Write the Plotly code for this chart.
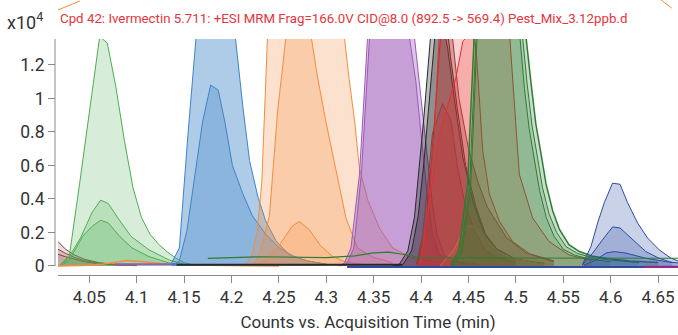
import plotly.graph_objects as go

# ---------------- data (values in x10^4 counts, time in min) ----------------
T_BROWN_TAIL = [4.010, 4.017, 4.025, 4.034, 4.045, 4.060, 4.080, 4.100]
V_BROWN_TAIL_1 = [0.160, 0.145, 0.100, 0.066, 0.040, 0.020, 0.008, 0.003]
V_BROWN_TAIL_2 = [0.110, 0.100, 0.075, 0.052, 0.032, 0.016, 0.006, 0.002]
V_BROWN_TAIL_3 = [0.075, 0.070, 0.055, 0.040, 0.025, 0.012, 0.004, 0.002]

T_GREEN_A = [4.018, 4.029, 4.040, 4.052, 4.061, 4.069, 4.078, 4.087, 4.096, 4.105, 4.114, 4.123, 4.132, 4.141, 4.150, 4.160]
V_GREEN_A = [0.0, 0.06, 0.50, 1.01, 1.37, 1.33, 1.07, 0.75, 0.47, 0.29, 0.19, 0.13, 0.085, 0.048, 0.02, 0.005]
T_GREEN_B = [4.020, 4.029, 4.041, 4.053, 4.062, 4.070, 4.081, 4.094, 4.113, 4.134, 4.150]
V_GREEN_B = [0.0, 0.056, 0.17, 0.32, 0.393, 0.373, 0.28, 0.177, 0.096, 0.036, 0.01]
T_GREEN_C = [4.020, 4.029, 4.043, 4.053, 4.062, 4.070, 4.082, 4.095, 4.113, 4.134, 4.150]
V_GREEN_C = [0.0, 0.036, 0.177, 0.237, 0.273, 0.257, 0.177, 0.108, 0.056, 0.018, 0.005]

T_ORANGE_BUMP = [4.017, 4.050, 4.065, 4.078, 4.090, 4.105, 4.125, 4.150, 4.200, 4.250]
V_ORANGE_BUMP = [0.0, 0.004, 0.012, 0.024, 0.033, 0.027, 0.015, 0.006, 0.002, 0.0]

T_BLUE_A = [4.136, 4.145, 4.154, 4.162, 4.172, 4.182, 4.193, 4.204, 4.212, 4.219, 4.228, 4.236, 4.247, 4.261, 4.280, 4.300]
V_BLUE_A = [0.01, 0.107, 0.78, 1.40, 2.0, 2.2, 1.95, 1.37, 0.95, 0.63, 0.41, 0.27, 0.15, 0.066, 0.03, 0.01]
T_BLUE_B = [4.138, 4.145, 4.153, 4.161, 4.1695, 4.178, 4.186, 4.193, 4.201, 4.212, 4.222, 4.236, 4.250, 4.265, 4.280, 4.300]
V_BLUE_B = [0.0, 0.03, 0.21, 0.53, 0.86, 1.08, 1.05, 0.86, 0.60, 0.43, 0.30, 0.19, 0.11, 0.06, 0.03, 0.01]

T_ORANGE_A = [4.210, 4.216, 4.221, 4.227, 4.232, 4.238, 4.250, 4.265, 4.280, 4.295, 4.310, 4.319, 4.324, 4.330, 4.335, 4.344, 4.356, 4.370, 4.390, 4.420]
V_ORANGE_A = [0.0, 0.02, 0.056, 0.20, 0.50, 1.37, 2.2, 2.8, 3.0, 2.7, 1.95, 1.37, 1.12, 0.86, 0.58, 0.39, 0.227, 0.107, 0.05, 0.02]
T_ORANGE_B = [4.222, 4.229, 4.240, 4.2486, 4.2575, 4.270, 4.284, 4.291, 4.300, 4.311, 4.321, 4.333, 4.350, 4.370]
V_ORANGE_B = [0.0, 0.056, 0.30, 0.92, 1.37, 2.0, 1.37, 1.12, 0.85, 0.56, 0.28, 0.107, 0.05, 0.02]
T_ORANGE_C = [4.225, 4.236, 4.250, 4.264, 4.2715, 4.282, 4.294, 4.307, 4.320, 4.340]
V_ORANGE_C = [0.0, 0.036, 0.12, 0.237, 0.265, 0.217, 0.12, 0.056, 0.025, 0.008]

T_PURPLE_A = [4.312, 4.319, 4.326, 4.335, 4.3436, 4.355, 4.366, 4.378, 4.3876, 4.3945, 4.400, 4.4034, 4.407, 4.412, 4.419, 4.430, 4.450]
V_PURPLE_A = [0.0, 0.016, 0.107, 0.548, 1.37, 2.2, 2.5, 2.2, 1.37, 1.10, 0.80, 0.59, 0.39, 0.19, 0.07, 0.03, 0.01]
T_PURPLE_B = [4.315, 4.322, 4.329, 4.337, 4.3457, 4.357, 4.368, 4.381, 4.3929, 4.399, 4.404, 4.408, 4.412, 4.417, 4.425, 4.440, 4.460]
V_PURPLE_B = [0.0, 0.016, 0.107, 0.55, 1.37, 2.1, 2.4, 2.1, 1.37, 1.05, 0.78, 0.57, 0.37, 0.18, 0.06, 0.025, 0.01]

T_BLACK_A = [4.370, 4.377, 4.386, 4.393, 4.398, 4.403, 4.410, 4.417, 4.424, 4.431, 4.438, 4.447, 4.458, 4.468, 4.480, 4.500, 4.530]
V_BLACK_A = [0.0, 0.01, 0.09, 0.29, 0.59, 0.89, 1.37, 1.75, 1.60, 1.25, 0.95, 0.60, 0.35, 0.19, 0.10, 0.04, 0.015]
T_BLACK_B = [4.373, 4.381, 4.390, 4.397, 4.403, 4.409, 4.415, 4.421, 4.428, 4.435, 4.444, 4.455, 4.466, 4.480, 4.500]
V_BLACK_B = [0.0, 0.01, 0.09, 0.30, 0.62, 1.00, 1.40, 1.50, 1.30, 1.00, 0.65, 0.38, 0.20, 0.10, 0.04]

T_BROWN_A = [4.395, 4.405, 4.412, 4.419, 4.426, 4.433, 4.440, 4.450, 4.460, 4.470, 4.490, 4.510, 4.540]
V_BROWN_A = [0.01, 0.20, 0.70, 1.37, 1.80, 1.37, 1.00, 0.70, 0.50, 0.35, 0.17, 0.08, 0.03]
T_BROWN_B = [4.395, 4.4016, 4.407, 4.412, 4.4226, 4.4315, 4.4385, 4.447, 4.458, 4.468, 4.480, 4.500]
V_BROWN_B = [0.0, 0.187, 0.49, 0.79, 0.97, 0.87, 0.59, 0.35, 0.19, 0.09, 0.05, 0.02]

T_RED_A = [4.399, 4.407, 4.414, 4.419, 4.435, 4.455, 4.475, 4.4935, 4.5036, 4.5176, 4.535, 4.556, 4.580]
V_RED_A = [0.02, 0.30, 0.80, 1.37, 2.4, 2.8, 2.3, 1.37, 0.548, 0.287, 0.146, 0.066, 0.03]
T_RED_B = [4.395, 4.400, 4.409, 4.4195, 4.4366, 4.444, 4.4526, 4.458, 4.465, 4.472, 4.4826, 4.4965, 4.515, 4.540]
V_RED_B = [0.0, 0.03, 0.39, 0.79, 1.12, 1.34, 1.40, 1.30, 0.69, 0.43, 0.267, 0.146, 0.07, 0.025]
T_RED_C = [4.420, 4.435, 4.447, 4.455, 4.465, 4.480, 4.500, 4.530]
V_RED_C = [0.0, 0.10, 0.237, 0.24, 0.17, 0.09, 0.04, 0.01]

T_DKGREEN_A = [4.431, 4.440, 4.445, 4.449, 4.452, 4.456, 4.470, 4.485, 4.500, 4.5106, 4.516, 4.521, 4.5265, 4.5318, 4.5388, 4.5458, 4.556, 4.567, 4.580, 4.595, 4.620, 4.650]
V_DKGREEN_A = [0.006, 0.096, 0.317, 0.48, 0.88, 1.37, 2.3, 2.6, 2.2, 1.37, 1.09, 0.85, 0.67, 0.49, 0.33, 0.22, 0.127, 0.086, 0.06, 0.046, 0.03, 0.02]
T_DKGREEN_B = [4.433, 4.442, 4.447, 4.451, 4.454, 4.458, 4.472, 4.485, 4.498, 4.507, 4.512, 4.517, 4.523, 4.528, 4.535, 4.543, 4.553, 4.565, 4.580, 4.600, 4.630]
V_DKGREEN_B = [0.006, 0.09, 0.30, 0.46, 0.85, 1.37, 2.2, 2.5, 2.0, 1.37, 1.08, 0.84, 0.64, 0.47, 0.31, 0.20, 0.115, 0.075, 0.05, 0.035, 0.02]
T_DKGREEN_C = [4.434, 4.443, 4.448, 4.452, 4.455, 4.459, 4.472, 4.485, 4.496, 4.504, 4.509, 4.514, 4.520, 4.525, 4.532, 4.540, 4.550, 4.562, 4.578, 4.600]
V_DKGREEN_C = [0.006, 0.08, 0.28, 0.44, 0.82, 1.37, 2.1, 2.3, 1.9, 1.37, 1.06, 0.82, 0.62, 0.45, 0.29, 0.18, 0.10, 0.065, 0.04, 0.025]

T_NAVY_A = [4.570, 4.5792, 4.5862, 4.5933, 4.6019, 4.6098, 4.6178, 4.6283, 4.6389, 4.6512, 4.6636, 4.671]
V_NAVY_A = [0.006, 0.116, 0.257, 0.378, 0.494, 0.488, 0.378, 0.257, 0.167, 0.096, 0.046, 0.03]
T_NAVY_B = [4.570, 4.581, 4.5915, 4.602, 4.6098, 4.623, 4.637, 4.651, 4.665]
V_NAVY_B = [0.006, 0.077, 0.157, 0.233, 0.227, 0.157, 0.086, 0.046, 0.02]
T_NAVY_C = [4.572, 4.5845, 4.595, 4.6038, 4.616, 4.637, 4.658, 4.671]
V_NAVY_C = [0.005, 0.036, 0.077, 0.086, 0.077, 0.046, 0.026, 0.018]

T_GREEN_LINE = [4.175, 4.230, 4.300, 4.330, 4.350, 4.366, 4.380, 4.400, 4.450, 4.550, 4.671]
V_GREEN_LINE = [0.045, 0.055, 0.050, 0.060, 0.078, 0.082, 0.070, 0.050, 0.048, 0.046, 0.046]

T_PURPLE_BASE = [4.077, 4.142]
V_PURPLE_BASE = [0.010, 0.010]
T_BLACK_BASE = [4.142, 4.380]
V_BLACK_BASE = [0.007, 0.007]
T_NAVY_BASE = [4.322, 4.671]
V_NAVY_BASE = [-0.006, -0.006]
T_MAGENTA_BASE = [4.635, 4.671]
V_MAGENTA_BASE = [-0.004, -0.004]

X_TICKS = [4.05, 4.1, 4.15, 4.2, 4.25, 4.3, 4.35, 4.4, 4.45, 4.5, 4.55, 4.6, 4.65]
X_TICK_LABELS = ["4.05", "4.1", "4.15", "4.2", "4.25", "4.3", "4.35", "4.4", "4.45", "4.5", "4.55", "4.6", "4.65"]
Y_TICKS = [0, 0.2, 0.4, 0.6, 0.8, 1.0, 1.2]
Y_TICK_LABELS = ["0", "0.2", "0.4", "0.6", "0.8", "1", "1.2"]

TITLE = "Cpd 42: Ivermectin 5.711: +ESI MRM Frag=166.0V CID@8.0 (892.5 -> 569.4) Pest_Mix_3.12ppb.d"
X_TITLE = "Counts vs. Acquisition Time (min)"

# ---------------- styles ----------------
GREEN = (76, 175, 80)
BLUE = (62, 132, 200)
ORANGE = (245, 140, 60)
PURPLE = (155, 89, 182)
BLACK = (40, 40, 40)
BROWN = (140, 60, 60)
RED = (235, 45, 45)
RUST = (205, 110, 70)
DKGREEN = (46, 125, 50)
NAVY = (45, 75, 165)
MAGENTA = (160, 40, 120)


def rgb(c):
    return "rgb(%d,%d,%d)" % c


def rgba(c, a):
    return "rgba(%d,%d,%d,%.3f)" % (c[0], c[1], c[2], a)


fig = go.Figure()


def area(t, v, c, a, w=1.0):
    fig.add_trace(go.Scatter(x=t, y=v, mode="lines", line=dict(color=rgb(c), width=w),
                             fill="tozeroy", fillcolor=rgba(c, a), hoverinfo="skip"))


def line(t, v, c, w=1.0):
    fig.add_trace(go.Scatter(x=t, y=v, mode="lines", line=dict(color=rgb(c), width=w),
                             hoverinfo="skip"))


area(T_BROWN_TAIL, V_BROWN_TAIL_1, BROWN, 0.18)
area(T_BROWN_TAIL, V_BROWN_TAIL_2, BROWN, 0.18)
area(T_BROWN_TAIL, V_BROWN_TAIL_3, BROWN, 0.18)
area(T_GREEN_A, V_GREEN_A, GREEN, 0.22)
area(T_GREEN_B, V_GREEN_B, GREEN, 0.22)
area(T_GREEN_C, V_GREEN_C, GREEN, 0.22)
line(T_ORANGE_BUMP, V_ORANGE_BUMP, ORANGE, 1.5)
line(T_PURPLE_BASE, V_PURPLE_BASE, PURPLE, 2)
area(T_BLUE_A, V_BLUE_A, BLUE, 0.42)
area(T_BLUE_B, V_BLUE_B, BLUE, 0.3)
area(T_ORANGE_A, V_ORANGE_A, ORANGE, 0.25)
area(T_ORANGE_B, V_ORANGE_B, ORANGE, 0.25)
area(T_ORANGE_C, V_ORANGE_C, ORANGE, 0.2)
area(T_PURPLE_A, V_PURPLE_A, PURPLE, 0.35)
area(T_PURPLE_B, V_PURPLE_B, PURPLE, 0.35)
area(T_BLACK_A, V_BLACK_A, BLACK, 0.3)
area(T_BLACK_B, V_BLACK_B, BLACK, 0.3)
area(T_BROWN_A, V_BROWN_A, BROWN, 0.35)
area(T_BROWN_B, V_BROWN_B, BROWN, 0.3)
area(T_RED_A, V_RED_A, RED, 0.22)
area(T_RED_B, V_RED_B, RED, 0.22)
area(T_RED_C, V_RED_C, RUST, 0.2)
area(T_DKGREEN_A, V_DKGREEN_A, DKGREEN, 0.25, 1.5)
area(T_DKGREEN_B, V_DKGREEN_B, DKGREEN, 0.2)
area(T_DKGREEN_C, V_DKGREEN_C, DKGREEN, 0.2)
area(T_NAVY_A, V_NAVY_A, NAVY, 0.25)
area(T_NAVY_B, V_NAVY_B, NAVY, 0.25)
area(T_NAVY_C, V_NAVY_C, NAVY, 0.25)
line(T_GREEN_LINE, V_GREEN_LINE, DKGREEN, 1.2)
line(T_BLACK_BASE, V_BLACK_BASE, BLACK, 2)
line(T_NAVY_BASE, V_NAVY_BASE, NAVY, 2)
line(T_MAGENTA_BASE, V_MAGENTA_BASE, MAGENTA, 2)

FONT = "Roboto"
AX = "#8a8a8a"
TXT = "#333333"
Y_TOP = 1.355

fig.update_layout(
    width=678, height=335,
    margin=dict(l=55, r=0, t=39, b=60),
    paper_bgcolor="white", plot_bgcolor="white",
    showlegend=False,
    font=dict(family=FONT, size=17, color=TXT),
    xaxis=dict(domain=[3 / 623, 1], range=[4.017, 4.671], tickvals=X_TICKS, ticktext=X_TICK_LABELS,
               showline=True, linecolor=AX, linewidth=1, ticks="outside", ticklen=7, tickcolor=AX,
               showgrid=False, zeroline=False,
               title=dict(text=X_TITLE, font=dict(size=17, color=TXT), standoff=9)),
    yaxis=dict(range=[-0.054, Y_TOP], anchor="free", position=0, tickvals=Y_TICKS, ticktext=Y_TICK_LABELS,
               showline=False, ticks="outside", ticklen=7, tickcolor=AX,
               showgrid=False, zeroline=False, tickfont=dict(size=17.5)),
    shapes=[
        dict(type="line", xref="paper", yref="y", x0=0, x1=0, y0=0, y1=Y_TOP,
             line=dict(color=AX, width=1)),
        dict(type="line", xref="paper", yref="paper", x0=0.0048, y0=1.123, x1=0.040, y1=1.161,
             line=dict(color=rgb(ORANGE), width=1)),
        dict(type="line", xref="paper", yref="paper", x0=0.973, y0=1.165, x1=0.99, y1=1.131,
             line=dict(color=rgb(ORANGE), width=1)),
    ],
    annotations=[
        dict(text=TITLE, xref="paper", yref="paper", x=0.005, y=(275 - 18) / 236,
             xanchor="left", yanchor="middle", showarrow=False,
             font=dict(family=FONT, size=13.3, color="rgb(232,52,58)")),
        dict(text="x10<sup>4</sup>", xref="paper", yref="paper", x=-50 / 623, y=(275 - 21) / 236,
             xanchor="left", yanchor="middle", showarrow=False,
             font=dict(family=FONT, size=18, color=TXT)),
    ],
)

fig.write_html("out.html", config={"displayModeBar": False},
               post_script="document.body.style.margin='0px';document.body.style.padding='0px';")
